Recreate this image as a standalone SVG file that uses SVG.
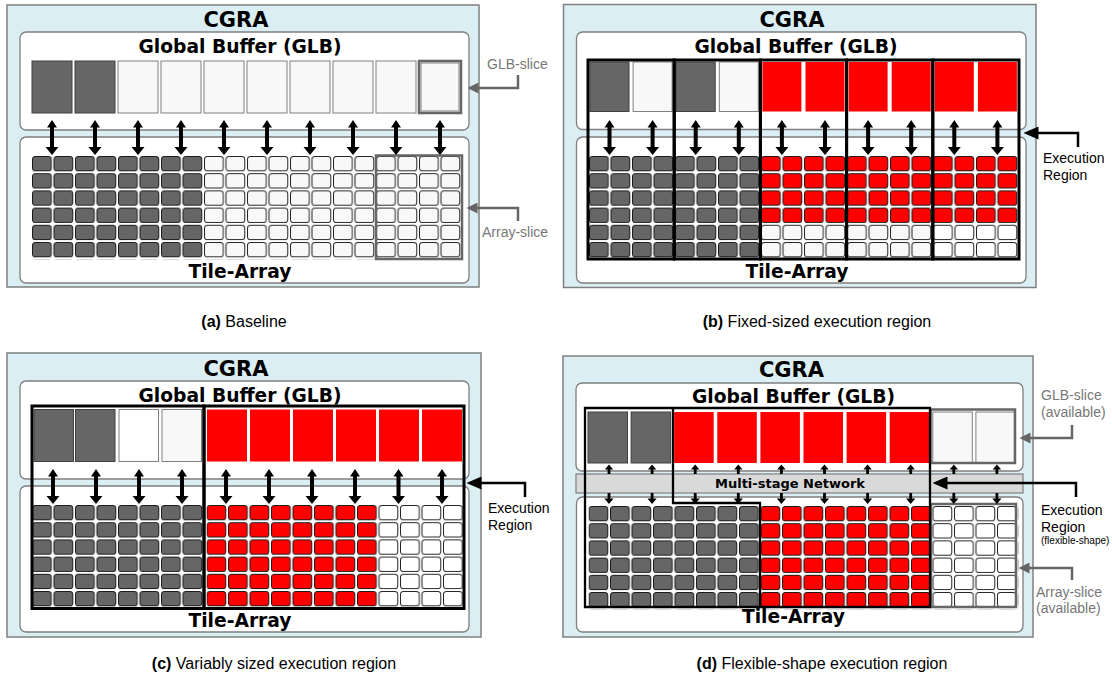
<svg xmlns="http://www.w3.org/2000/svg" width="1112" height="677" viewBox="0 0 1112 677">
<style>
.cg{fill:#daeef3;stroke:#7f7f7f;stroke-width:1.5}
.bx{fill:#fff;stroke:#7f7f7f;stroke-width:1.3}
.t1{font-family:"DejaVu Sans",Verdana,sans-serif;font-weight:bold;font-size:21px;text-anchor:middle;fill:#000}
.t2{font-family:"DejaVu Sans",Verdana,sans-serif;font-weight:bold;font-size:18.7px;text-anchor:middle;fill:#000}
.net{font-family:"DejaVu Sans",Verdana,sans-serif;font-weight:bold;font-size:13px;text-anchor:middle;fill:#000}
.lg{font-family:"Liberation Sans",Arial,sans-serif;font-size:14px;fill:#777}
.lb{font-family:"Liberation Sans",Arial,sans-serif;font-size:14px;fill:#000}
.ls{font-family:"Liberation Sans",Arial,sans-serif;font-size:10px;fill:#000}
.cap{font-family:"Liberation Sans",Arial,sans-serif;font-size:16px;text-anchor:middle;fill:#000}
.sd{fill:#666;stroke:#404040;stroke-width:1}
.sl{fill:#f8f8f8;stroke:#808080;stroke-width:1}
.sw{fill:#fff;stroke:#808080;stroke-width:1}
.sr{fill:#f00}
.reg{fill:none;stroke:#000;stroke-width:3}
.hl{fill:none;stroke:#666;stroke-width:2.5}
.cgl{fill:none;stroke:#666;stroke-width:2.5}
.cbl{fill:none;stroke:#000;stroke-width:2.5}
.bar{fill:#d9d9d9;stroke:#7f7f7f;stroke-width:1.2}
</style>
<defs>
<pattern id="tDark" patternUnits="userSpaceOnUse" x="32" y="156" width="21.5" height="17.2"><rect x="0.5" y="0.5" width="18.8" height="14.4" rx="3" fill="#666" stroke="#1a1a1a" stroke-width="1"/></pattern>
<pattern id="tRed" patternUnits="userSpaceOnUse" x="32" y="156" width="21.5" height="17.2"><rect x="0.5" y="0.5" width="18.8" height="14.4" rx="3" fill="#f00" stroke="#1a1a1a" stroke-width="1"/></pattern>
<pattern id="tLight" patternUnits="userSpaceOnUse" x="32" y="156" width="21.5" height="17.2"><rect x="0.5" y="0.5" width="18.8" height="14.4" rx="3" fill="#f8f8f8" stroke="#222" stroke-width="1"/></pattern>
<pattern id="tWhite" patternUnits="userSpaceOnUse" x="32" y="156" width="21.5" height="17.2"><rect x="0.5" y="0.5" width="18.8" height="14.4" rx="3" fill="#fff" stroke="#222" stroke-width="1"/></pattern>
<pattern id="dots" patternUnits="userSpaceOnUse" x="32" y="156" width="21.5" height="17.2"><circle cx="20.65" cy="16.3" r="1.6" fill="#fff"/></pattern>
<g id="da"><rect x="-2" y="126" width="4" height="22"/><path d="M0,120 L5,127.5 L-5,127.5 Z M0,155 L6.5,147 L-6.5,147 Z"/></g>
<g id="ua"><rect x="-1.4" y="118.5" width="2.8" height="5.5"/><path d="M0,114.5 L4.2,119.5 L-4.2,119.5 Z"/></g>
<g id="dn"><rect x="-1.4" y="143" width="2.8" height="6"/><path d="M0,154 L4.6,148.5 L-4.6,148.5 Z"/></g>
<marker id="mg" markerUnits="userSpaceOnUse" viewBox="0 0 11 11" markerWidth="11" markerHeight="11" refX="0.5" refY="5.5" orient="auto"><path d="M0,0 L11,5.5 L0,11 Z" fill="#666"/></marker>
<marker id="mb" markerUnits="userSpaceOnUse" viewBox="0 0 15 13" markerWidth="15" markerHeight="13" refX="0.5" refY="6.5" orient="auto"><path d="M0,0 L15,6.5 L0,13 Z" fill="#000"/></marker>
</defs>

<!-- (a) Baseline -->
<g id="panel-a">
<rect class="cg" x="7" y="5" width="472" height="282"/>
<text class="t1" x="236" y="27">CGRA</text>
<g id="a-glb">
<rect class="bx" x="20" y="32" width="449" height="98" rx="6"/>
<text class="t2" x="240" y="53">Global Buffer (GLB)</text>
<rect class="sd" x="32" y="61" width="40" height="52"/>
<rect class="sd" x="75" y="61" width="40" height="52"/>
<rect class="sl" x="118" y="61" width="40" height="52"/>
<rect class="sl" x="161" y="61" width="40" height="52"/>
<rect class="sl" x="204" y="61" width="40" height="52"/>
<rect class="sl" x="247" y="61" width="40" height="52"/>
<rect class="sl" x="290" y="61" width="40" height="52"/>
<rect class="sl" x="333" y="61" width="40" height="52"/>
<rect class="sl" x="376" y="61" width="40" height="52"/>
<rect class="sl" x="421" y="63" width="38" height="48"/>
<rect class="hl" x="419" y="61" width="42" height="52"/>
</g>
<g id="a-array">
<rect class="bx" x="20" y="137" width="449" height="146" rx="6"/>
<rect x="32" y="156" width="172" height="103.2" fill="url(#tDark)"/>
<rect x="204" y="156" width="258" height="103.2" fill="url(#tLight)"/>
<rect x="32" y="156" width="410" height="88" fill="url(#dots)"/>
<rect class="hl" x="376" y="155.5" width="86" height="103.5"/>
<text class="t2" x="240" y="278">Tile-Array</text>
</g>
<g id="a-links">
<use href="#da" x="52"/><use href="#da" x="95"/><use href="#da" x="138"/><use href="#da" x="181"/><use href="#da" x="224"/>
<use href="#da" x="267"/><use href="#da" x="310"/><use href="#da" x="353"/><use href="#da" x="396"/><use href="#da" x="440"/>
</g>
<g id="a-labels">
<text class="lg" x="487" y="69">GLB-slice</text>
<path class="cgl" d="M518,75 V88 H478" marker-end="url(#mg)"/>
<text class="lg" x="482" y="237">Array-slice</text>
<path class="cgl" d="M518,221 V208 H477" marker-end="url(#mg)"/>
</g>
</g>

<!-- (b) Fixed-sized -->
<g id="panel-b" transform="translate(557,0)">
<rect class="cg" x="6.5" y="4.5" width="472.5" height="283"/>
<text class="t1" x="235" y="27">CGRA</text>
<g id="b-glb">
<rect class="bx" x="19.5" y="32" width="449.5" height="97.5" rx="6"/>
<text class="t2" x="239" y="53">Global Buffer (GLB)</text>
<rect class="sd" x="33" y="62" width="39" height="49.5"/>
<rect class="sl" x="76.1" y="62" width="39" height="49.5"/>
<rect class="sd" x="119.2" y="62" width="39" height="49.5"/>
<rect class="sl" x="162.3" y="62" width="39" height="49.5"/>
<rect class="sr" x="205.4" y="62" width="39" height="49.5"/>
<rect class="sr" x="248.5" y="62" width="39" height="49.5"/>
<rect class="sr" x="291.6" y="62" width="39" height="49.5"/>
<rect class="sr" x="334.7" y="62" width="39" height="49.5"/>
<rect class="sr" x="377.8" y="62" width="39" height="49.5"/>
<rect class="sr" x="420.9" y="62" width="39" height="49.5"/>
</g>
<g id="b-array">
<rect class="bx" x="19.5" y="137" width="449.5" height="146" rx="6"/>
<rect x="32" y="156" width="172" height="103.2" fill="url(#tDark)"/>
<rect x="204" y="156" width="258" height="68.8" fill="url(#tRed)"/>
<rect x="204" y="224.8" width="172" height="34.4" fill="url(#tLight)"/>
<rect x="376" y="224.8" width="86" height="34.4" fill="url(#tWhite)"/>
<rect x="32" y="156" width="410" height="88" fill="url(#dots)"/>
<text class="t2" x="240" y="278">Tile-Array</text>
</g>
<g id="b-regions">
<rect class="reg" x="31" y="60" width="86.2" height="199"/>
<rect class="reg" x="117.2" y="60" width="86.2" height="199"/>
<rect class="reg" x="203.4" y="60" width="86.2" height="199"/>
<rect class="reg" x="289.6" y="60" width="86.2" height="199"/>
<rect class="reg" x="375.8" y="60" width="86.2" height="199"/>
</g>
<g id="b-links">
<use href="#da" x="52.5"/><use href="#da" x="95.6"/><use href="#da" x="138.7"/><use href="#da" x="181.8"/><use href="#da" x="224.9"/>
<use href="#da" x="268"/><use href="#da" x="311.1"/><use href="#da" x="354.2"/><use href="#da" x="397.3"/><use href="#da" x="440.4"/>
</g>
<g id="b-labels">
<text class="lb" x="486" y="163">Execution</text>
<text class="lb" x="486" y="180">Region</text>
<path class="cbl" d="M521,147 V133 H481" marker-end="url(#mb)"/>
</g>
</g>

<!-- (c) Variably sized -->
<g id="panel-c" transform="translate(0,349)">
<rect class="cg" x="7" y="4" width="474" height="284"/>
<text class="t1" x="236" y="27">CGRA</text>
<g id="c-glb">
<rect class="bx" x="20" y="32" width="449" height="98" rx="6"/>
<text class="t2" x="240" y="53">Global Buffer (GLB)</text>
<rect class="sd" x="34" y="60.5" width="39.5" height="52"/>
<rect class="sd" x="75.5" y="60.5" width="39.5" height="52"/>
<rect class="sw" x="119" y="60.5" width="39.5" height="52"/>
<rect class="sl" x="162" y="60.5" width="39.5" height="52"/>
<rect class="sr" x="207" y="60.5" width="40" height="52"/>
<rect class="sr" x="250" y="60.5" width="40" height="52"/>
<rect class="sr" x="293" y="60.5" width="40" height="52"/>
<rect class="sr" x="336" y="60.5" width="40" height="52"/>
<rect class="sr" x="379" y="60.5" width="40" height="52"/>
<rect class="sr" x="422" y="60.5" width="40" height="52"/>
</g>
<g id="c-array">
<rect class="bx" x="20" y="137" width="449" height="146" rx="6"/>
<rect x="32" y="156" width="172" height="103.2" fill="url(#tDark)"/>
<rect x="32" y="156" width="152" height="88" fill="url(#dots)"/>
<g transform="translate(2.5,0)">
<rect x="204" y="156" width="172" height="103.2" fill="url(#tRed)"/>
<rect x="376" y="156" width="86" height="103.2" fill="url(#tWhite)"/>
<rect x="204" y="156" width="238" height="88" fill="url(#dots)"/>
</g>
<text class="t2" x="240" y="278">Tile-Array</text>
</g>
<g id="c-regions">
<rect class="reg" x="32" y="57" width="172" height="202.5"/>
<rect class="reg" x="204" y="57" width="260" height="202.5"/>
</g>
<g id="c-links">
<use href="#da" x="53"/><use href="#da" x="96"/><use href="#da" x="139"/><use href="#da" x="182"/><use href="#da" x="226"/>
<use href="#da" x="269"/><use href="#da" x="312"/><use href="#da" x="355"/><use href="#da" x="398.5"/><use href="#da" x="442"/>
</g>
<g id="c-labels">
<text class="lb" x="488" y="164">Execution</text>
<text class="lb" x="488" y="181">Region</text>
<path class="cbl" d="M525,148 V134 H481" marker-end="url(#mb)"/>
</g>
</g>

<!-- (d) Flexible-shape -->
<g id="panel-d" transform="translate(556.5,350)">
<rect class="cg" x="6.5" y="6" width="470" height="281"/>
<text class="t1" x="235" y="27">CGRA</text>
<g id="d-glb">
<rect class="bx" x="19.5" y="33" width="447" height="88" rx="6"/>
<text class="t2" x="237" y="53">Global Buffer (GLB)</text>
<rect class="sd" x="31.5" y="62" width="39.5" height="51"/>
<rect class="sd" x="74.6" y="62" width="39.5" height="51"/>
<rect class="sr" x="117.7" y="62" width="39.5" height="51"/>
<rect class="sr" x="160.8" y="62" width="39.5" height="51"/>
<rect class="sr" x="203.9" y="62" width="39.5" height="51"/>
<rect class="sr" x="247" y="62" width="39.5" height="51"/>
<rect class="sr" x="290.1" y="62" width="39.5" height="51"/>
<rect class="sr" x="333.2" y="62" width="39.5" height="51"/>
<rect class="sl" x="376.3" y="62" width="39.5" height="51"/>
<rect class="sl" x="419.4" y="62" width="38.5" height="51"/>
<rect class="hl" x="374" y="59.5" width="84.5" height="53.5"/>
</g>
<g id="d-network">
<rect class="bar" x="19.5" y="124" width="447" height="19"/>
<text class="net" x="233.5" y="138">Multi-stage Network</text>
</g>
<g id="d-array">
<rect class="bx" x="20" y="147" width="446.5" height="135" rx="6"/>
<rect x="32" y="156" width="172" height="103.2" fill="url(#tDark)"/>
<rect x="204" y="156" width="172" height="103.2" fill="url(#tRed)"/>
<rect x="376" y="156" width="86" height="103.2" fill="url(#tWhite)"/>
<rect x="32" y="156" width="410" height="88" fill="url(#dots)"/>
<rect class="hl" x="374.5" y="154" width="85" height="103"/>
<text class="t2" x="237" y="273">Tile-Array</text>
</g>
<g id="d-links">
<use href="#ua" x="52.5"/><use href="#ua" x="95.6"/><use href="#ua" x="138.7"/><use href="#ua" x="181.8"/><use href="#ua" x="224.9"/>
<use href="#ua" x="268"/><use href="#ua" x="311.1"/><use href="#ua" x="354.2"/><use href="#ua" x="397.3"/><use href="#ua" x="440.4"/>
<use href="#dn" x="52.5"/><use href="#dn" x="95.6"/><use href="#dn" x="138.7"/><use href="#dn" x="181.8"/><use href="#dn" x="224.9"/>
<use href="#dn" x="268"/><use href="#dn" x="311.1"/><use href="#dn" x="354.2"/><use href="#dn" x="397.3"/><use href="#dn" x="440.4"/>
</g>
<g id="d-regions">
<path fill="none" stroke="#000" stroke-width="2.3" d="M28.5,58 H373.5 V257 H28.5 Z M116.5,58 V153 H203.5 V257"/>
</g>
<g id="d-labels">
<text class="lg" x="484.5" y="50">GLB-slice</text>
<text class="lg" x="484.5" y="67">(available)</text>
<path class="cgl" d="M515.5,75 V88 H473.5" marker-end="url(#mg)"/>
<text class="lb" x="484.5" y="165">Execution</text>
<text class="lb" x="484.5" y="182">Region</text>
<text class="ls" x="484.5" y="194">(flexible-shape)</text>
<path class="cbl" d="M519.5,147 V133 H390.5" marker-end="url(#mb)"/>
<text class="lg" x="479.5" y="247">Array-slice</text>
<text class="lg" x="479.5" y="263">(available)</text>
<path class="cgl" d="M515.5,230 V218 H472.5" marker-end="url(#mg)"/>
</g>
</g>

<g id="captions">
<text class="cap" x="244" y="327"><tspan font-weight="bold">(a)</tspan> Baseline</text>
<text class="cap" x="817" y="327"><tspan font-weight="bold">(b)</tspan> Fixed-sized execution region</text>
<text class="cap" x="274" y="669"><tspan font-weight="bold">(c)</tspan> Variably sized execution region</text>
<text class="cap" x="822" y="669"><tspan font-weight="bold">(d)</tspan> Flexible-shape execution region</text>
</g>
</svg>
